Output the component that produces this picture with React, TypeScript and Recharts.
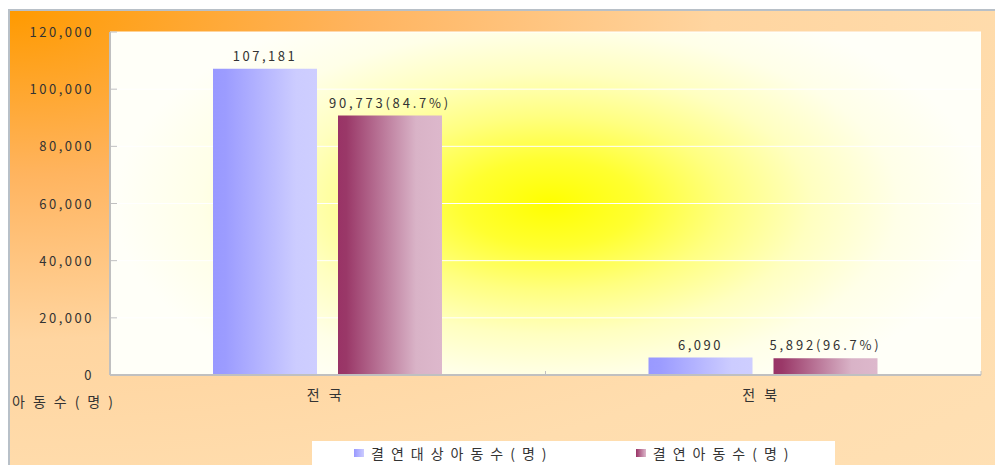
import React from 'react';
import { BarChart, Bar, XAxis, YAxis, CartesianGrid, LabelList } from 'recharts';

// Data
const categories = ['전국', '전북'];
const targetCounts = [107181, 6090];
const sponsoredCounts = [90773, 5892];
const sponsoredRates = [84.7, 96.7];
const yTicks = [0, 20000, 40000, 60000, 80000, 100000, 120000];
const seriesNames = ['결연대상아동수(명)', '결연아동수(명)'];
const yAxisTitle = '아동수(명)';

const fmt = (v: number) => v.toLocaleString('en-US');

const tableData = categories.map((name, i) => ({
  name,
  target: targetCounts[i],
  sponsored: sponsoredCounts[i],
  targetLabel: fmt(targetCounts[i]),
  sponsoredLabel: `${fmt(sponsoredCounts[i])}(${sponsoredRates[i]}%)`,
}));

const FONT = "'Noto Sans CJK KR', 'Noto Sans', sans-serif";
const TEXT = '#333333';
const AXIS_GRAY = '#c0c0c0';

const W = 995;
const H = 465;

const Y_TICK_MARGIN = 16;

const YTick = (props: any) => {
  const { x, y, payload } = props;
  const axisX = x + Y_TICK_MARGIN;
  return (
    <g>
      <line x1={axisX} x2={axisX + 7} y1={y} y2={y} stroke={AXIS_GRAY} strokeWidth={1} />
      <text
        x={x}
        y={y}
        dy={5}
        textAnchor="end"
        fill={TEXT}
        fontSize={13}
        fontFamily={FONT}
        style={{ letterSpacing: 2.5 }}
      >
        {fmt(payload.value)}
      </text>
    </g>
  );
};

const XTick = (props: any) => {
  const { x, y, payload } = props;
  const edge = x + (payload.offset || 0);
  return (
    <g>
      <line x1={edge} x2={edge} y1={y - 4} y2={y} stroke={AXIS_GRAY} strokeWidth={1} />
      <text
        x={x + 1}
        y={y}
        dy={25}
        textAnchor="middle"
        fill={TEXT}
        fontSize={14}
        fontFamily={FONT}
        style={{ letterSpacing: 9 }}
      >
        {payload.value}
      </text>
    </g>
  );
};

const legendSwatches = [
  'linear-gradient(to right, #9999ff, #ccccff)',
  'linear-gradient(to right, #993366, #ddb8cc)',
];

export default function App() {
  return (
    <div style={{ position: 'absolute', left: 0, top: 0, width: W, height: H, overflow: 'hidden', background: '#ffffff' }}>
      {/* outer frame */}
      <div
        style={{
          position: 'absolute',
          left: 8,
          top: 9,
          width: W,
          height: H,
          borderTop: '2px solid #b8c0c8',
          borderLeft: '2px solid #b8c0c8',
          background:
            'radial-gradient(ellipse farthest-corner at 0 0, #ff9a00 0%, #ffb45f 25%, #ffd5a0 50%, #ffddae 75%, #ffe0b4 100%)',
        }}
      />

      <div style={{ position: 'absolute', left: 0, top: 0 }}>
        <BarChart
          width={W}
          height={H}
          data={tableData}
          margin={{ top: 32, right: 14, left: 10, bottom: 60 }}
          barSize={104}
          barGap={21}
        >
          <defs>
            <radialGradient
              id="plotBg"
              cx="0.505"
              cy="0.5"
              r="0.5"
              gradientTransform="translate(0.5 0.5) scale(1 1.27) translate(-0.5 -0.5)"
            >
              <stop offset="0" stopColor="#ffff00" />
              <stop offset="0.2" stopColor="#ffff30" />
              <stop offset="0.4" stopColor="#ffff80" />
              <stop offset="0.6" stopColor="#ffffc0" />
              <stop offset="0.8" stopColor="#ffffe8" />
              <stop offset="1" stopColor="#fffff8" />
            </radialGradient>
            <linearGradient id="barBlue" x1="0" y1="0" x2="1" y2="0">
              <stop offset="0" stopColor="#9999ff" />
              <stop offset="0.12" stopColor="#9c9cff" />
              <stop offset="0.8" stopColor="#ccccff" />
              <stop offset="1" stopColor="#ceceff" />
            </linearGradient>
            <linearGradient id="barPurple" x1="0" y1="0" x2="1" y2="0">
              <stop offset="0" stopColor="#993366" />
              <stop offset="0.08" stopColor="#9a3868" />
              <stop offset="0.75" stopColor="#d9b3c7" />
              <stop offset="1" stopColor="#ddb8cc" />
            </linearGradient>
          </defs>
          <CartesianGrid vertical={false} stroke="#ffffff" strokeWidth={1} fill="url(#plotBg)" fillOpacity={1} />
          <XAxis
            dataKey="name"
            height={30}
            axisLine={{ stroke: AXIS_GRAY, strokeWidth: 2 }}
            tickLine={false}
            tickSize={0}
            tickMargin={0}
            tick={<XTick />}
            interval={0}
          />
          <YAxis
            width={100}
            domain={[0, 120000]}
            ticks={yTicks}
            interval={0}
            axisLine={{ stroke: AXIS_GRAY, strokeWidth: 2 }}
            tickLine={false}
            tickSize={0}
            tickMargin={Y_TICK_MARGIN}
            tick={<YTick />}
          />
          <Bar dataKey="target" name={seriesNames[0]} fill="url(#barBlue)" isAnimationActive={false}>
            <LabelList
              dataKey="targetLabel"
              position="top"
              offset={8}
              fill={TEXT}
              fontSize={13}
              fontFamily={FONT}
              style={{ letterSpacing: 2.5 }}
            />
          </Bar>
          <Bar dataKey="sponsored" name={seriesNames[1]} fill="url(#barPurple)" isAnimationActive={false}>
            <LabelList
              dataKey="sponsoredLabel"
              position="top"
              offset={8}
              fill={TEXT}
              fontSize={13}
              fontFamily={FONT}
              style={{ letterSpacing: 2.8 }}
            />
          </Bar>
        </BarChart>
      </div>

      {/* y-axis unit */}
      <div
        style={{
          position: 'absolute',
          left: 12,
          top: 393,
          fontFamily: FONT,
          fontSize: 14,
          lineHeight: '16px',
          letterSpacing: 8,
          color: TEXT,
          whiteSpace: 'nowrap',
        }}
      >
        {yAxisTitle}
      </div>

      {/* legend */}
      <div
        style={{
          position: 'absolute',
          left: 312,
          top: 441,
          width: 523,
          height: 30,
          background: '#ffffff',
          display: 'flex',
          alignItems: 'flex-start',
          paddingLeft: 42,
          boxSizing: 'border-box',
        }}
      >
        {seriesNames.map((name, i) => (
          <div
            key={name}
            style={{ display: 'flex', alignItems: 'center', width: i === 0 ? 283 : 200, height: 24 }}
          >
            <span style={{ display: 'inline-block', width: 10, height: 8, background: legendSwatches[i], marginRight: 7 }} />
            <span
              style={{
                fontFamily: FONT,
                fontSize: 14,
                letterSpacing: 7,
                color: TEXT,
                whiteSpace: 'nowrap',
                lineHeight: '16px',
              }}
            >
              {name}
            </span>
          </div>
        ))}
      </div>
    </div>
  );
}
